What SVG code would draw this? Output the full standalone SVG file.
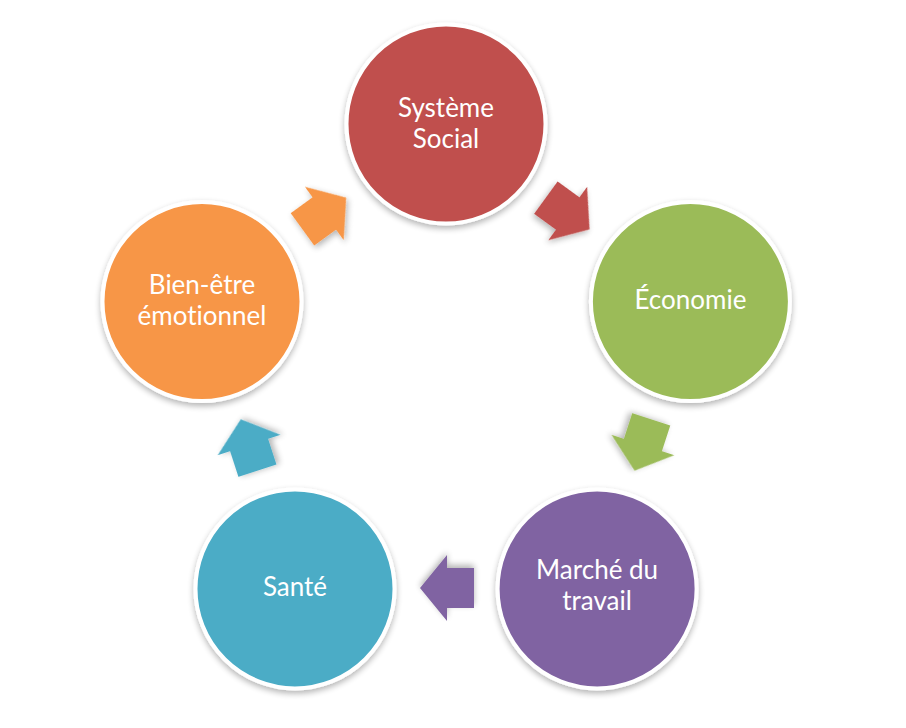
<svg xmlns="http://www.w3.org/2000/svg" width="906" height="728" viewBox="0 0 906 728">
<defs>
<filter id="sh" x="-20%" y="-20%" width="140%" height="150%">
<feGaussianBlur in="SourceAlpha" stdDeviation="3"/>
<feOffset dx="0" dy="3" result="b"/>
<feComponentTransfer><feFuncA type="linear" slope="0.3"/></feComponentTransfer>
<feMerge><feMergeNode/><feMergeNode in="SourceGraphic"/></feMerge>
</filter>
<path id="arr" d="M-27,-20 L0,-20 L0,-33 L27,0 L0,33 L0,20 L-27,20 Z"/>
</defs>
<style>
.node circle{stroke:#fff;stroke-width:4;filter:url(#sh)}
.node text{font-family:Lato,"Open Sans",sans-serif;font-size:26px;fill:#fff;text-anchor:middle;font-variant-ligatures:none;font-feature-settings:"liga" 0}
.arrow{filter:url(#sh)}
</style>
<rect width="906" height="728" fill="#fff"/>
<g id="connectors">
<use href="#arr" class="arrow" fill="#C0504D" transform="translate(567.7,213.5) rotate(36)"/>
<use href="#arr" class="arrow" fill="#9BBB59" transform="translate(642.9,445) rotate(108)"/>
<use href="#arr" class="arrow" fill="#8064A2" transform="translate(447,588) rotate(180)"/>
<use href="#arr" class="arrow" fill="#4BACC6" transform="translate(249.1,445) rotate(252)"/>
<use href="#arr" class="arrow" fill="#F79646" transform="translate(324.3,213.5) rotate(324)"/>
</g>
<g id="systeme-social" class="node">
<circle cx="446" cy="124" r="99.5" fill="#C0504D"/>
<text x="446" y="117">Système</text>
<text x="446" y="148">Social</text>
</g>
<g id="economie" class="node">
<circle cx="690.4" cy="301.6" r="99.5" fill="#9BBB59"/>
<text x="690.4" y="309">Économie</text>
</g>
<g id="marche-du-travail" class="node">
<circle cx="597.1" cy="588.9" r="99.5" fill="#8064A2"/>
<text x="597.1" y="579">Marché du</text>
<text x="597.1" y="610">travail</text>
</g>
<g id="sante" class="node">
<circle cx="295" cy="588.9" r="99.5" fill="#4BACC6"/>
<text x="295" y="596">Santé</text>
</g>
<g id="bien-etre" class="node">
<circle cx="202" cy="301.6" r="99.5" fill="#F79646"/>
<text x="202" y="294">Bien-être</text>
<text x="202" y="325">émotionnel</text>
</g>
</svg>
